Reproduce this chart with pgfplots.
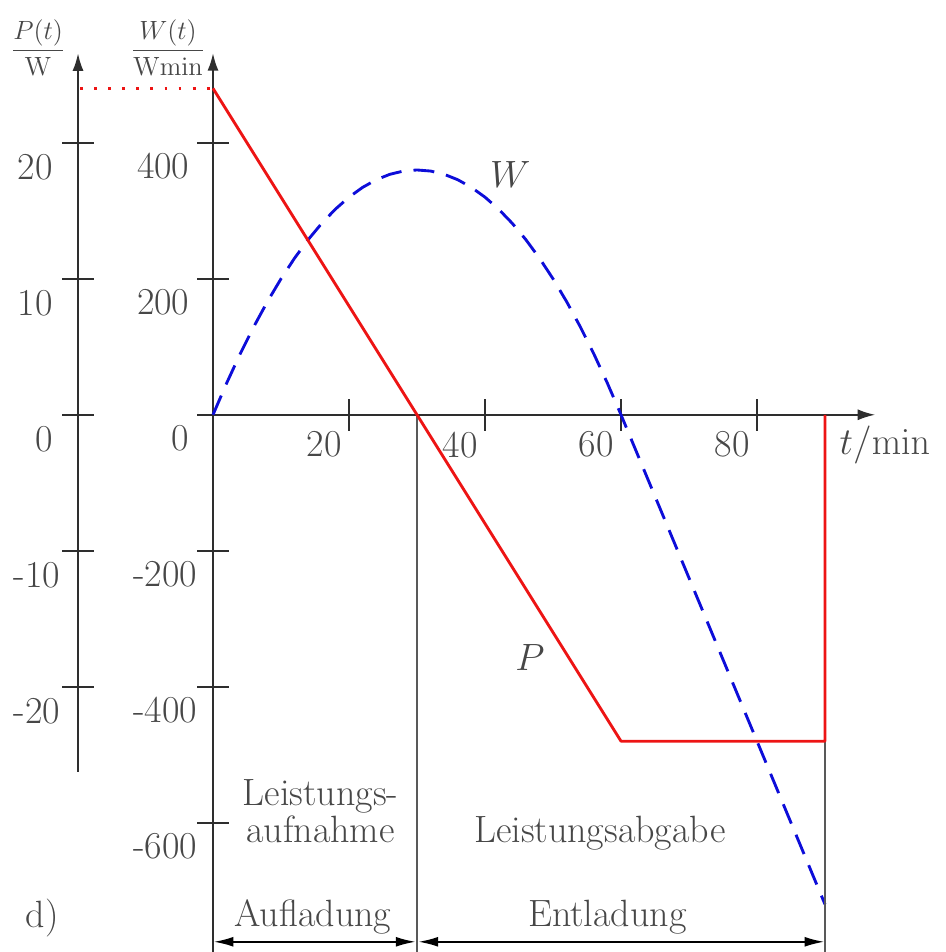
\documentclass[border=0pt]{standalone}
\usepackage{pgfplots}
\pgfplotsset{compat=1.18}
\usetikzlibrary{arrows.meta}

\definecolor{txt}{gray}{0.28}
\definecolor{axc}{gray}{0.18}
\definecolor{sep}{gray}{0.35}
\definecolor{myred}{rgb}{0.93,0.08,0.08}
\definecolor{myblue}{rgb}{0.05,0.05,0.85}

\begin{document}
\begin{tikzpicture}[font=\LARGE]
\useasboundingbox (-96.82pt,0pt) rectangle (332.73pt,432.73pt);

% ---------- main axis: t and W ----------
\begin{axis}[
  at={(0pt,0pt)}, anchor=south west,
  scale only axis, x=3.0909pt, y=0.30909pt,
  xmin=0, xmax=97.4, ymin=-790, ymax=532,
  axis lines=middle,
  axis line style={axc, line width=0.9pt},
  x axis line style={-{Latex[length=8pt,width=5pt]}},
  y axis line style={-{Latex[length=8pt,width=5pt]}},
  xtick={20,40,60,80}, xticklabels={20,40,60,80},
  ytick={-600,-400,-200,0,200,400},
  yticklabels={{-600\kern-3.5pt},{-400\kern-3.5pt},{-200\kern-3.5pt},0,200,400},
  hide obscured x ticks=false, hide obscured y ticks=false,
  major tick length=14.5pt, tick align=center,
  tick style={axc, line width=0.9pt},
  tick label style={font=\LARGE, text=txt, inner sep=0pt},
  xticklabel style={anchor=north east, xshift=-3.2pt, yshift=-0.3pt},
  yticklabel style={anchor=north east, xshift=-3.3pt, yshift=-4.4pt},
  clip=false,
]
\addplot[myblue, line width=1.3pt, dash pattern=on 9.5pt off 5.5pt] coordinates {
 (0,0) (2,46.4) (4,89.6) (6,129.6) (8,166.4) (10,200) (12,230.4) (14,257.6)
 (16,281.6) (18,302.4) (20,320) (22,334.4) (24,345.6) (26,353.6) (28,358.4)
 (30,360) (32,358.4) (34,353.6) (36,345.6) (38,334.4) (40,320) (42,302.4)
 (44,281.6) (46,257.6) (48,230.4) (50,200) (52,166.4) (54,129.6) (56,89.6)
 (58,46.4) (60,0) (90,-720)};

\draw[sep, line width=0.7pt] (axis cs:30,0) -- (axis cs:30,-790);
\draw[sep, line width=0.7pt] (axis cs:90,-480) -- (axis cs:90,-790);

\draw[black, line width=0.8pt, {Latex[length=9pt,width=4.5pt]}-{Latex[length=9pt,width=4.5pt]}]
  (axis cs:0.1,-775) -- (axis cs:29.8,-775);
\draw[black, line width=0.8pt, {Latex[length=9pt,width=4.5pt]}-{Latex[length=9pt,width=4.5pt]}]
  (axis cs:30.2,-775) -- (axis cs:89.9,-775);

\node[text=txt] at (axis cs:98.8,-44) {$t/\mathrm{min}$};
\node[text=txt] at (axis cs:43.7,354) {$W$};
\node[text=txt] at (axis cs:46.6,-357) {$P$};
\node[text=txt, anchor=base] at (axis cs:15.8,-575) {Leistungs-};
\node[text=txt, anchor=base] at (axis cs:15.8,-629) {aufnahme};
\node[text=txt, anchor=base] at (axis cs:56.9,-629) {Leistungsabgabe};
\node[text=txt, anchor=base] at (axis cs:14.7,-753) {Aufladung};
\node[text=txt, anchor=base] at (axis cs:58.0,-753) {Entladung};
\end{axis}

% ---------- P data on the same geometry ----------
\begin{axis}[
  at={(0pt,0pt)}, anchor=south west,
  scale only axis, x=3.0909pt, y=6.1818pt,
  xmin=0, xmax=97.4, ymin=-39.5, ymax=26.6,
  hide axis, clip=false,
]
\addplot[myred, line width=1.3pt, line join=round] coordinates {
 (0,24) (30,0) (60,-24) (90,-24) (90,0)};
\addplot[myred, line width=1.3pt, dash pattern=on 1.3pt off 5.1pt] coordinates {
 (-19.55,24) (0,24)};
\end{axis}

% ---------- P axis ----------
\begin{axis}[
  at={(-61.36pt,81.82pt)}, anchor=south west,
  scale only axis, x=1pt, y=6.1818pt,
  xmin=0, xmax=1, ymin=-26.25, ymax=26.6,
  axis x line=none, axis y line=left,
  axis line style={axc, line width=0.9pt},
  y axis line style={-{Latex[length=8pt,width=5pt]}},
  xtick=\empty,
  ytick={-20,-10,0,10,20},
  yticklabels={{-20\kern-3.4pt},{-10\kern-3.4pt},0,10,20},
  major tick length=14.5pt, tick align=center,
  tick style={axc, line width=0.9pt},
  tick label style={font=\LARGE, text=txt, inner sep=0pt},
  yticklabel style={anchor=north east, xshift=-4.1pt, yshift=-4.9pt},
  clip=false,
]
\end{axis}

\node[text=txt, font=\fontsize{11.5}{13.5}\selectfont] at (-79.5pt,411.3pt) {$\displaystyle\frac{P(t)}{\mathrm{W}}$};
\node[text=txt, font=\fontsize{11.5}{13.5}\selectfont] at (-20.45pt,411.3pt) {$\displaystyle\frac{W(t)}{\mathrm{Wmin}}$};
\node[text=txt, anchor=base] at (-77.7pt,11.36pt) {d)};
\end{tikzpicture}
\end{document}
